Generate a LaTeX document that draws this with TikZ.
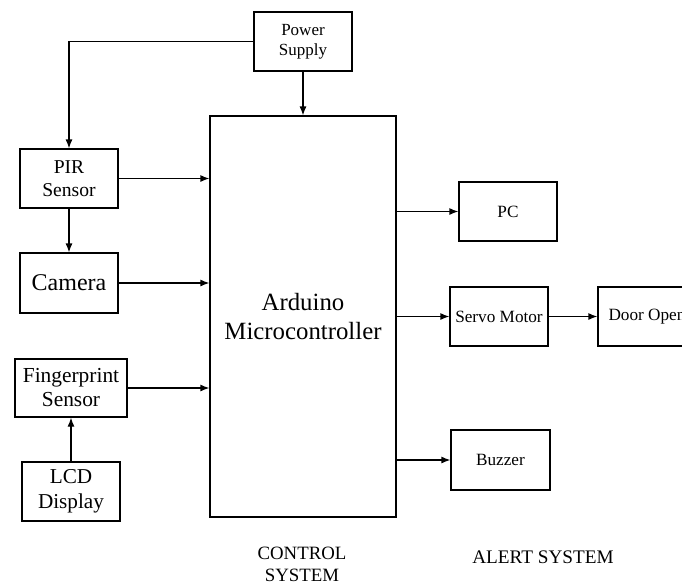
\documentclass[tikz,border=0pt]{standalone}
\usepackage{fontspec}
\setmainfont{Liberation Serif}
\usetikzlibrary{arrows.meta}
\tikzset{
  blk/.style={draw, line width=0.6pt, inner sep=0pt, align=center, minimum width=#1},
  arr/.style={-{Latex[length=4.5pt,width=3.5pt]}, line width=0.6pt},
  lab/.style={inner sep=0pt, align=center}
}
\newcommand{\fs}[2]{\fontsize{#1}{#2}\selectfont}
\begin{document}
\begin{tikzpicture}[x=0.5pt,y=-0.5pt]
\useasboundingbox (0,0) rectangle (682,586);
\node[blk=49pt, minimum height=29.5pt, font=\fs{8.5}{10}] (ps) at (303,41.5) {Power\\Supply};
\node[blk=93pt, minimum height=200.5pt, font=\fs{12.4}{14.5}] (ard) at (303,316.5) {Arduino\\Microcontroller};
\node[blk=49pt, minimum height=29.5pt, font=\fs{9.8}{11.5}] (pir) at (69,178.5) {PIR\\Sensor};
\node[blk=49pt, minimum height=30pt, font=\fs{12}{14}] (cam) at (69,283) {Camera};
\node[blk=56pt, minimum height=29pt, font=\fs{10.7}{12}] (fp) at (71,388) {Fingerprint\\Sensor};
\node[blk=49pt, minimum height=29.5pt, font=\fs{10.6}{12.5}] (lcd) at (71,491.5) {LCD\\Display};
\node[blk=49pt, minimum height=29.5pt, font=\fs{8.6}{10}] (pc) at (508,211.5) {PC};
\node[blk=49pt, minimum height=29.5pt, font=\fs{8.6}{10}] (servo) at (499,316.5) {Servo Motor};
\node[blk=49pt, minimum height=29.5pt, font=\fs{8.6}{10}] (door) at (647,316.5) {Door Open};
\node[blk=49.5pt, minimum height=30pt, font=\fs{8.6}{10}] (buz) at (500.5,460) {Buzzer};
\node[lab, font=\fs{9.4}{11}] (ctl) at (302,564) {CONTROL\\SYSTEM};
\node[lab, font=\fs{9.6}{11}] (alert) at (543,557) {ALERT SYSTEM};
\draw[arr] (ps.west) -| (pir.north);
\draw[arr] (ps.south) -- (ard.north);
\draw[arr] (pir.east) -- (ard.west |- pir.east);
\draw[arr] (pir.south) -- (cam.north);
\draw[arr] (cam.east) -- (ard.west |- cam.east);
\draw[arr] (fp.east) -- (ard.west |- fp.east);
\draw[arr] (lcd.north) -- (fp.south);
\draw[arr] (ard.east |- pc.west) -- (pc.west);
\draw[arr] (ard.east |- servo.west) -- (servo.west);
\draw[arr] (servo.east) -- (door.west);
\draw[arr] (ard.east |- buz.west) -- (buz.west);
\end{tikzpicture}
\end{document}
